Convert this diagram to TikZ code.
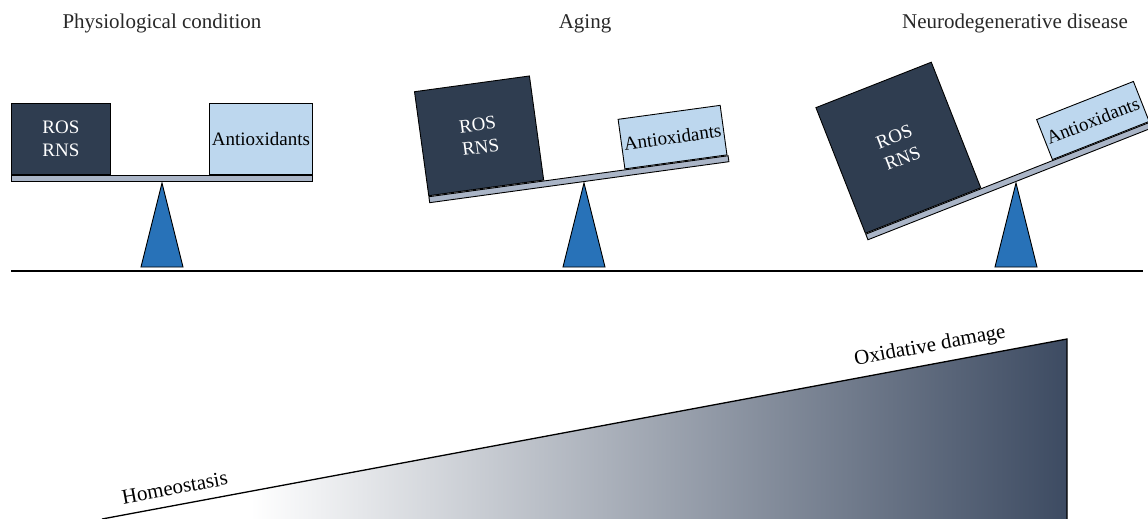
\documentclass[tikz,border=0pt]{standalone}
\usepackage{fontspec}
\setmainfont{Liberation Serif}
\definecolor{rosdark}{RGB}{47,61,80}
\definecolor{antilight}{RGB}{189,215,238}
\definecolor{beamfill}{RGB}{170,181,199}
\definecolor{fulcblue}{RGB}{40,114,184}
\definecolor{slateend}{RGB}{61,75,98}
\definecolor{txtgray}{RGB}{40,40,40}
\pgfdeclarehorizontalshading{wedgeshade}{100bp}{color(0bp)=(white); color(25bp)=(white); color(32.7bp)=(white); color(75bp)=(slateend); color(100bp)=(slateend)}
\tikzset{
  title/.style={anchor=base, text=txtgray, font=\fontsize{21}{25}\selectfont},
  rosbox/.style={draw=black, line width=0.9pt, fill=rosdark, text=white, align=center, anchor=south west, inner sep=0pt, font=\fontsize{19}{23}\selectfont},
  antibox/.style={draw=black, line width=0.9pt, fill=antilight, text=black, align=center, anchor=south west, inner sep=0pt, font=\fontsize{19}{23}\selectfont},
  beambar/.style={draw=black, line width=0.9pt, fill=beamfill, anchor=south west, inner sep=0pt, minimum height=6pt},
  fulcrum/.style={draw=black, line width=0.9pt, fill=fulcblue},
  slanted/.style={anchor=base, rotate=10.57, text=black, font=\fontsize{21}{25}\selectfont}
}
\begin{document}
\begin{tikzpicture}[x=1pt,y=1pt]
\clip (0,0) rectangle (1148,-519);
\useasboundingbox (0,0) rectangle (1148,-519);
% titles
\node[title] (t1) at (162,-29) {Physiological condition};
\node[title] (t2) at (585,-29) {Aging};
\node[title] (t3) at (1015,-29) {Neurodegenerative disease};
% fulcrums
\draw[fulcrum] (162,-183) -- (183,-267) -- (141,-267) -- cycle;
\draw[fulcrum] (584,-183) -- (605,-267) -- (563,-267) -- cycle;
\draw[fulcrum] (1016,-183) -- (1037,-267) -- (995,-267) -- cycle;
% panel 1
\begin{scope}[shift={(162,-183)}, transform shape]
  \node[beambar, minimum width=301pt] (beam1) at (-151,1) {};
  \node[rosbox, minimum width=99pt, minimum height=71pt] (ros1) at (-151,8) {ROS\\RNS};
  \node[antibox, minimum width=103pt, minimum height=71pt] (anti1) at (47,8) {Antioxidants};
\end{scope}
% panel 2
\begin{scope}[shift={(584,-183)}, rotate=7.8, transform shape]
  \node[beambar, minimum width=302pt] (beam2) at (-156,1) {};
  \node[rosbox, minimum width=116pt, minimum height=105pt] (ros2) at (-156,8) {ROS\\RNS};
  \node[antibox, minimum width=103pt, minimum height=50pt] (anti2) at (42,8) {Antioxidants};
\end{scope}
% panel 3
\begin{scope}[shift={(1016,-183)}, rotate=21.5, transform shape]
  \node[beambar, minimum width=305pt] (beam3) at (-159,1) {};
  \node[rosbox, minimum width=124pt, minimum height=135pt] (ros3) at (-159,8) {ROS\\RNS};
  \node[antibox, minimum width=104pt, minimum height=43pt] (anti3) at (42,8) {Antioxidants};
\end{scope}
% ground
\coordinate (g1) at (11,-271);
\coordinate (g2) at (1143,-271);
\draw[line width=1.3pt] (g1) -- (g2);
% wedge
\coordinate (w1) at (102,-519);
\coordinate (w2) at (1067,-339);
\coordinate (w3) at (1067,-519);
\shade[shading=wedgeshade] (w1) -- (w2) -- (w3) -- cycle;
\draw[line width=1.3pt] (w1) -- (w2) -- (w3);
\node[slanted] (homeo) at (176,-494.3) {Homeostasis};
\node[slanted] (oxd) at (931,-351.6) {Oxidative damage};
\end{tikzpicture}
\end{document}
